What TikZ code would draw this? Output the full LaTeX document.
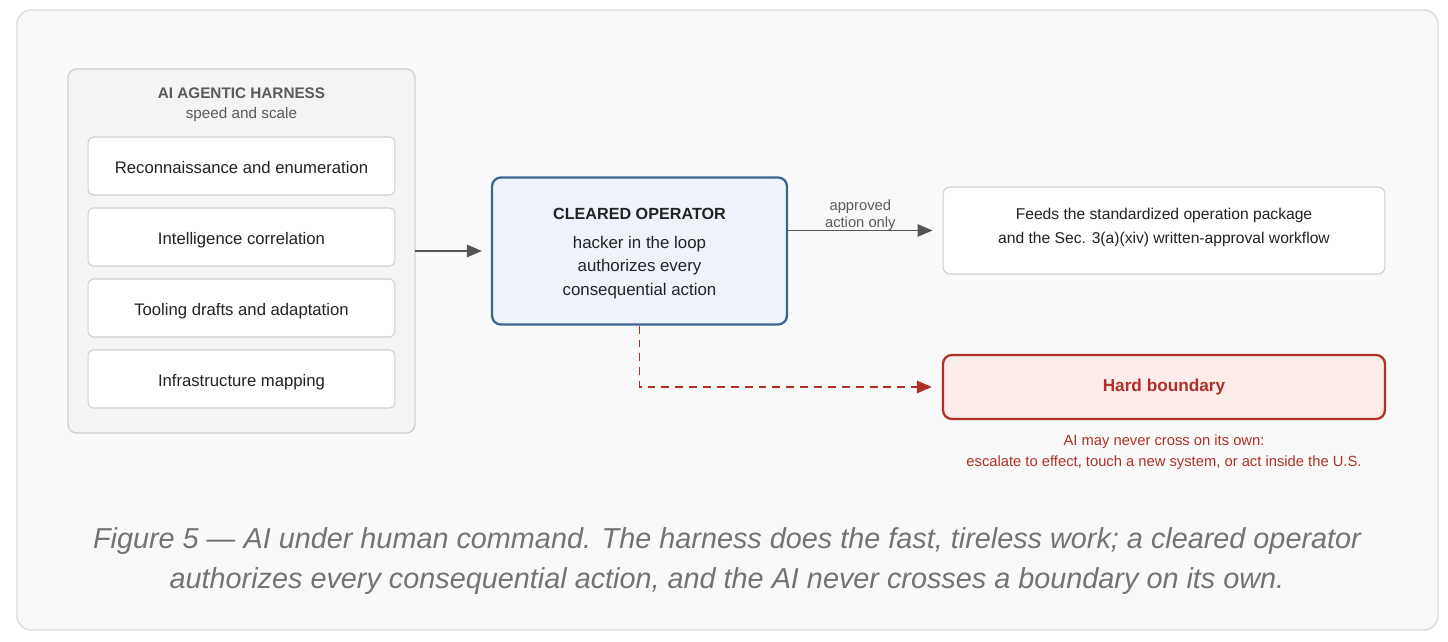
\documentclass[tikz,border=0pt]{standalone}
\usepackage{fontspec}
\setmainfont{Liberation Sans}
\usetikzlibrary{arrows.meta}
\definecolor{pagebg}{HTML}{F9F9F9}
\definecolor{framegray}{HTML}{DDDDDD}
\definecolor{harnessbg}{HTML}{F4F4F4}
\definecolor{harnessline}{HTML}{D0D0D0}
\definecolor{txtdark}{HTML}{222222}
\definecolor{txtgray}{HTML}{5A5A5A}
\definecolor{opline}{HTML}{3D6390}
\definecolor{opfill}{HTML}{EEF3FB}
\definecolor{hardred}{HTML}{B03028}
\definecolor{hardfill}{HTML}{FBECE9}
\definecolor{arrowgray}{HTML}{555555}
\tikzset{
  stepbox/.style={draw=harnessline, fill=white, rounded corners=3pt, line width=0.6pt,
    minimum width=6.14cm, minimum height=1.16cm, text height=10.6pt, text depth=2pt,
    font=\fontsize{9.5}{11}\selectfont, text=txtdark},
  arrowline/.style={draw=arrowgray, line width=1.1pt, -{Triangle[length=8.5pt,width=7pt]}},
}
\begin{document}
\begin{tikzpicture}[x=0.02cm, y=-0.02cm]
            \useasboundingbox (0, 0) rectangle (1448, 642);
            \fill[white] (0, 0) rectangle (1448, 642);
            \draw[framegray, fill=pagebg, line width=0.8pt, rounded corners=8pt] (17, 10) rectangle (1438, 630);
            % harness column
            \draw[harnessline, fill=harnessbg, line width=0.8pt, rounded corners=5pt] (68, 69) coordinate(hnw) rectangle (415, 433) coordinate(hse);
            \node[font=\bfseries\fontsize{8.7}{10}\selectfont, text=txtgray] (htitle) at (241.5, 93) {AI AGENTIC HARNESS};
            \node[font=\fontsize{8.7}{10}\selectfont, text=txtgray] (hsub) at (241.5, 115) {speed and scale};
            \node[stepbox] (recon) at (241.5, 166) {Reconnaissance and enumeration};
            \node[stepbox] (intel) at (241.5, 237) {Intelligence correlation};
            \node[stepbox] (tooling) at (241.5, 308) {Tooling drafts and adaptation};
            \node[stepbox] (infra) at (241.5, 379) {Infrastructure mapping};
            \coordinate (hout) at (415, 251);
            % operator
            \node[draw=opline, fill=opfill, line width=1.3pt, rounded corners=5pt, minimum width=5.9cm, minimum height=2.94cm,
                  align=center, text=txtdark, font=\fontsize{9.6}{13.4}\selectfont] (oper) at (639.5, 251)
                  {\rule{0pt}{9pt}{\bfseries\fontsize{9.2}{10}\selectfont CLEARED OPERATOR}\\[3pt] hacker in the loop\\ authorizes every\\ consequential action};
            \draw[arrowline] (hout) -- ([xshift=-0.18cm]oper.west);
            % outputs
            \node[draw=harnessline, fill=white, line width=0.6pt, rounded corners=4pt, minimum width=8.84cm, minimum height=1.74cm,
                  align=center, text=txtdark, font=\fontsize{8.9}{13.6}\selectfont] (feeds) at (1164, 230.5)
                  {Feeds the standardized operation package\\ and the Sec. 3(a)(xiv) written-approval workflow\rule[-5pt]{0pt}{5pt}};
            \draw[arrowline] (oper.east |- feeds.west) -- node[above, yshift=-2.2pt, font=\fontsize{8.4}{9.6}\selectfont, text=txtgray, align=center, inner sep=1.5pt] {approved\\ action only} ([xshift=-0.2cm]feeds.west);
            \node[draw=hardred, fill=hardfill, line width=1.3pt, rounded corners=5pt, minimum width=8.84cm, minimum height=1.28cm,
                  text=hardred, font=\bfseries\fontsize{9.8}{11}\selectfont] (hard) at (1164, 387) {Hard boundary};
            \node[text=hardred, align=center, font=\fontsize{8.4}{12}\selectfont] (hardnote) at (1164, 452)
                  {AI may never cross on its own:\\ escalate to effect, touch a new system, or act inside the U.S.};
            \draw[hardred, line width=1.1pt, dash pattern=on 4.5pt off 3.4pt, -{Triangle[length=8.5pt,width=7pt]}] (oper.south) |- ([xshift=-0.2cm]hard.west);
            % caption
            \node[text=txtgray!85, align=center, font=\itshape\fontsize{16.4}{23}\selectfont] (caption) at (727, 561)
                  {Figure 5 — AI under human command. The harness does the fast, tireless work; a cleared operator\\ authorizes every consequential action, and the AI never crosses a boundary on its own.};
        \end{tikzpicture}
\end{document}
